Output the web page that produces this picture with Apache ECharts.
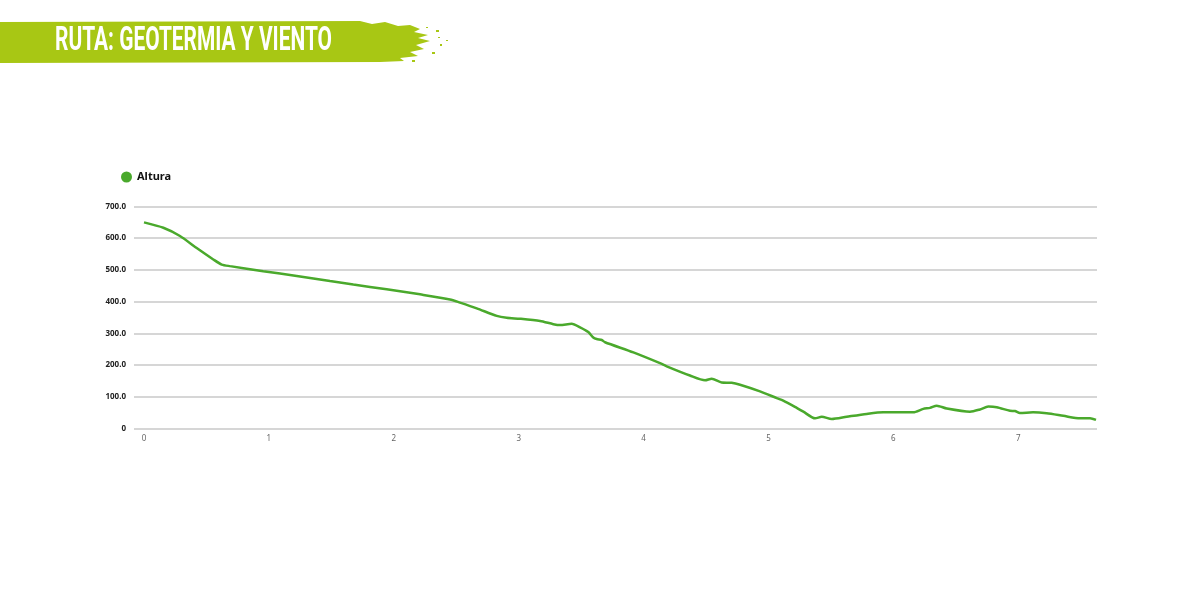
<!DOCTYPE html>
<html>
<head>
<meta charset="utf-8">
<script src="https://cdn.jsdelivr.net/npm/echarts@6/dist/echarts.min.js"></script>
<style>
html,body{margin:0;padding:0;background:#fff;}
#chart{width:1200px;height:615px;}
</style>
</head>
<body>
<div id="chart"></div>
<script>
const titleText = 'RUTA: GEOTERMIA Y VIENTO';
const seriesName = 'Altura';
const distanceKm = [0, 0.155, 0.288, 0.422, 0.555, 0.622, 0.689, 0.955, 1.223, 1.489, 1.676, 1.943, 2.210, 2.450, 2.530, 2.664, 2.824, 2.904, 3.010, 3.171, 3.277, 3.331, 3.424, 3.491, 3.557, 3.597, 3.624, 3.665, 3.691, 3.918, 4.131, 4.185, 4.371, 4.492, 4.545, 4.625, 4.705, 4.772, 4.932, 5.066, 5.118, 5.226, 5.279, 5.373, 5.426, 5.506, 5.626, 5.786, 5.919, 6.159, 6.239, 6.293, 6.347, 6.427, 6.613, 6.693, 6.760, 6.827, 6.933, 6.973, 7.013, 7.118, 7.227, 7.360, 7.494, 7.574, 7.622];
const altura = [650, 633, 607, 569, 533, 517, 512, 496, 481, 465, 454, 439, 423, 407, 397, 379, 355, 349, 346, 339, 329, 326, 330, 319, 304, 287, 282, 279, 272, 240, 206, 196, 167, 152, 157, 145, 144, 138, 117, 96, 88, 65, 53, 32, 37, 30, 37, 46, 51, 51, 62, 65, 72, 63, 53, 60, 69, 67, 56, 55, 49, 51, 48, 40, 32, 32, 27];
const xMax = 7.63;
const yMax = 700;
const yInterval = 100;

const lineColor = '#4aa92c';
const bannerColor = '#a8c714';

const chart = echarts.init(document.getElementById('chart'), null, {renderer: 'canvas'});

const points = distanceKm.map((d, i) => [d, altura[i]]);

// banner shape with a rough right edge
const bannerPts = [[0,22],[360,21],[372,24],[385,22],[398,26],[410,25],[420,29],[414,32],[428,35],[418,38],[430,41],[416,45],[424,49],[410,52],[418,56],[400,58],[404,61],[380,62],[0,63]];
const specks = [[436,30,3,2],[440,44,2,2],[432,52,3,2],[426,27,2,1],[438,37,2,1],[446,40,2,1],[412,60,3,2],[6,28,2,2],[20,56,2,2]];

// measure title width to compress it into a narrow, condensed look
const titleFont = 'bold 33px Roboto, "Noto Sans", sans-serif';
const cv = document.createElement('canvas').getContext('2d');
cv.font = titleFont;
const natW = cv.measureText(titleText).width;
const titleScale = 277 / natW;

chart.setOption({
  animation: false,
  graphic: [
    {type: 'polygon', shape: {points: bannerPts}, style: {fill: bannerColor}, z: 0},
    ...specks.map(s => ({type: 'rect', shape: {x: s[0], y: s[1], width: s[2], height: s[3]}, style: {fill: bannerColor}})),
    {type: 'text', x: 55, y: 41.5, scaleX: titleScale, z: 10,
     style: {text: titleText, fill: '#ffffff', font: titleFont, textVerticalAlign: 'middle', verticalAlign: 'middle'}}
  ],
  legend: {
    left: 116, top: 166.5,
    itemWidth: 11, itemHeight: 11, icon: 'circle',
    textStyle: {fontSize: 11, fontWeight: 'bold', color: '#111', fontFamily: 'Noto Sans'},
    data: [{name: seriesName, itemStyle: {color: lineColor}}]
  },
  grid: [
    {left: 134, right: 103, top: 206.5, bottom: 186.5},
    {left: 144, right: 103, top: 206.5, bottom: 186.5}
  ],
  xAxis: [
    {gridIndex: 0, type: 'value', min: 0, max: 1, show: false},
    {gridIndex: 1, type: 'value', min: 0, max: xMax, interval: 1,
     axisLine: {show: false}, axisTick: {show: false}, splitLine: {show: false},
     axisLabel: {color: '#666', fontSize: 8, fontFamily: 'Noto Sans', margin: 6,
       formatter: v => Number.isInteger(v) ? String(v) : ''}}
  ],
  yAxis: [
    {gridIndex: 0, type: 'value', min: 0, max: yMax, interval: yInterval,
     axisLine: {show: false}, axisTick: {show: false},
     splitLine: {lineStyle: {color: '#c8c8c8', width: 1.5}},
     axisLabel: {color: '#222', fontSize: 8, fontWeight: 'bold', fontFamily: 'Noto Sans', margin: 8,
       formatter: v => v === 0 ? '0' : v.toFixed(1)}},
    {gridIndex: 1, type: 'value', min: 0, max: yMax, interval: yInterval, show: false, splitLine: {show: false}}
  ],
  series: [{
    name: seriesName, type: 'line', xAxisIndex: 1, yAxisIndex: 1,
    data: points, showSymbol: false, smooth: 0.25,
    lineStyle: {color: lineColor, width: 2.5},
    itemStyle: {color: lineColor}
  }]
});
</script>
</body>
</html>
